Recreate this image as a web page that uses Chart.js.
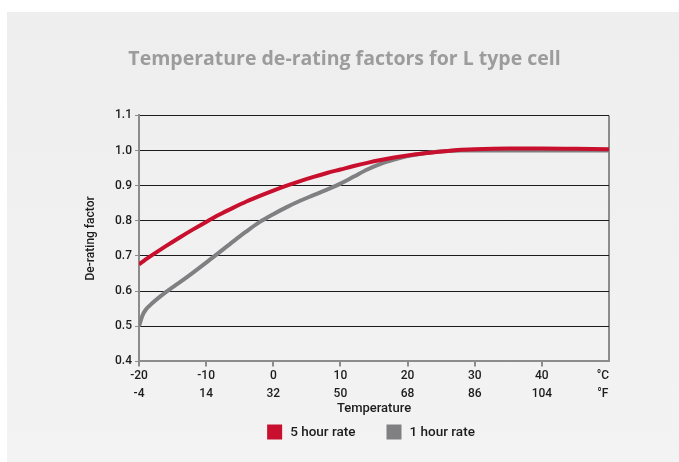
<!DOCTYPE html>
<html>
<head>
<meta charset="utf-8">
<script src="https://cdn.jsdelivr.net/npm/chart.js@4.4.0/dist/chart.umd.min.js"></script>
<style>
    html, body { margin: 0; padding: 0; background: #fff; }
    #panel {
        position: absolute; left: 7px; top: 12px; width: 672px; height: 450px;
        background: linear-gradient(180deg, #eeeeee 0%, #f3f3f3 100%);
    }
    #wrap { position: absolute; left: 0; top: 0; width: 679px; height: 462px; }
</style>
</head>
<body>
<div id="panel"></div>
<div id="wrap"><canvas id="chart1"></canvas></div>
<script>
var temps = [-20, -19.5, -19, -18, -16, -14, -12, -10, -8, -6, -4, -2, 0, 2, 4, 6, 8, 10,
    12, 14, 16, 18, 20, 22, 24, 26, 28, 30, 35, 40, 45, 50];
// 5 hour rate
var rate5h = [0.676, 0.683, 0.690, 0.703, 0.728, 0.752, 0.775, 0.797, 0.818, 0.837, 0.855, 0.871,
    0.886, 0.900, 0.913, 0.925, 0.936, 0.946, 0.956, 0.965, 0.973, 0.980, 0.986, 0.991,
    0.995, 0.999, 1.002, 1.004, 1.006, 1.006, 1.005, 1.004];
// 1 hour rate
var rate1h = [0.500, 0.530, 0.547, 0.566, 0.597, 0.624, 0.652, 0.681, 0.711, 0.741, 0.770, 0.797,
    0.819, 0.839, 0.857, 0.873, 0.889, 0.906, 0.926, 0.946, 0.962, 0.974, 0.984, 0.991,
    0.996, 0.999, 1.000, 1.000, 1.000, 1.000, 1.000, 1.000];
// tick labels
var ticksC = ["-20", "-10", "0", "10", "20", "30", "40", "°C"];
var ticksF = ["-4", "14", "32", "50", "68", "86", "104", "°F"];

var red = "#c8102e";
var grey = "#808083";
var axisGrey = "#8c8c8c";
var ink = "#1c1c1c";
var tickFont = { family: "Roboto", size: 12, weight: "500", lineHeight: 1.5 };

function pts(xs, ys) {
    return xs.map(function (x, i) { return { x: x, y: ys[i] }; });
}

// legend drawn under the axis title, square swatches with wide gap
var boxLegend = {
    id: "boxLegend",
    afterDraw: function (chart) {
        var ctx = chart.ctx;
        var sets = chart.data.datasets;
        var box = 15, gap = 8, between = 31;
        ctx.save();
        ctx.font = "500 13.5px Roboto";
        var total = 0;
        sets.forEach(function (d, i) {
            total += box + gap + ctx.measureText(d.label).width + (i ? between : 0);
        });
        var x = (chart.chartArea.left + chart.chartArea.right) / 2 - 3 - total / 2;
        var y = 432;
        ctx.textBaseline = "middle";
        sets.forEach(function (d) {
            ctx.fillStyle = d.borderColor;
            ctx.fillRect(x, y - box / 2, box, box);
            x += box + gap;
            ctx.fillStyle = ink;
            ctx.fillText(d.label, x, y + 1);
            x += ctx.measureText(d.label).width + between;
        });
        ctx.restore();
    }
};

new Chart("chart1", {
    type: "line",
    data: {
        datasets: [{
            label: "5 hour rate",
            data: pts(temps, rate5h),
            borderColor: red,
            backgroundColor: red,
            borderWidth: 4,
            pointRadius: 0,
            cubicInterpolationMode: "monotone"
        }, {
            label: "1 hour rate",
            data: pts(temps, rate1h),
            borderColor: grey,
            backgroundColor: grey,
            borderWidth: 4,
            pointRadius: 0,
            cubicInterpolationMode: "monotone"
        }]
    },
    plugins: [boxLegend],
    options: {
        responsive: true,
        maintainAspectRatio: false,
        animation: false,
        layout: { padding: { left: 80, right: 70, top: 0, bottom: 45 } },
        plugins: {
            tooltip: { enabled: false },
            legend: { display: false },
            title: {
                display: true,
                text: "Temperature de-rating factors for L type cell",
                color: "#9c9c9c",
                font: { family: "Open Sans", size: 19.5, weight: "bold" },
                padding: { top: 48, bottom: 44 }
            }
        },
        scales: {
            x: {
                type: "linear",
                min: -20,
                max: 50,
                afterBuildTicks: function (s) {
                    s.ticks = [-20, -10, 0, 10, 20, 30, 40, 50].map(function (v) { return { value: v }; });
                },
                border: { color: axisGrey, width: 2 },
                grid: {
                    drawOnChartArea: true,
                    tickLength: 5,
                    lineWidth: 2,
                    color: function (c) { return c.tick && c.tick.value === 50 ? axisGrey : "rgba(0,0,0,0)"; },
                    tickColor: function (c) { return c.tick && c.tick.value === 50 ? "rgba(0,0,0,0)" : axisGrey; }
                },
                ticks: {
                    color: ink,
                    font: tickFont,
                    padding: 1,
                    maxRotation: 0,
                    callback: function (v, i) {
                        // unit labels sit flush left of the right border
                        var pad = i === ticksC.length - 1 ? "\u2002\u2002" : "";
                        return [ticksC[i] + pad, ticksF[i] + pad];
                    }
                },
                title: {
                    display: true,
                    text: "Temperature",
                    color: ink,
                    font: { family: "Roboto", size: 13, weight: "500" },
                    padding: { top: -3, bottom: 0 }
                }
            },
            y: {
                min: 0.4,
                max: 1.1,
                afterFit: function (s) { s.width = 59; },
                border: { color: axisGrey, width: 2 },
                grid: {
                    tickLength: 4,
                    lineWidth: 1,
                    color: function (c) { return c.tick && c.tick.value < 0.45 ? "rgba(0,0,0,0)" : ink; },
                    tickColor: axisGrey
                },
                ticks: {
                    stepSize: 0.1,
                    color: ink,
                    font: { family: "Roboto", size: 12, weight: "500" },
                    padding: 3,
                    callback: function (v) { return v.toFixed(1); }
                },
                title: {
                    display: true,
                    text: "De-rating factor",
                    color: ink,
                    font: { family: "Roboto", size: 12, weight: "500" },
                    padding: { top: 4, bottom: 0 }
                }
            }
        }
    }
});
</script>
</body>
</html>
